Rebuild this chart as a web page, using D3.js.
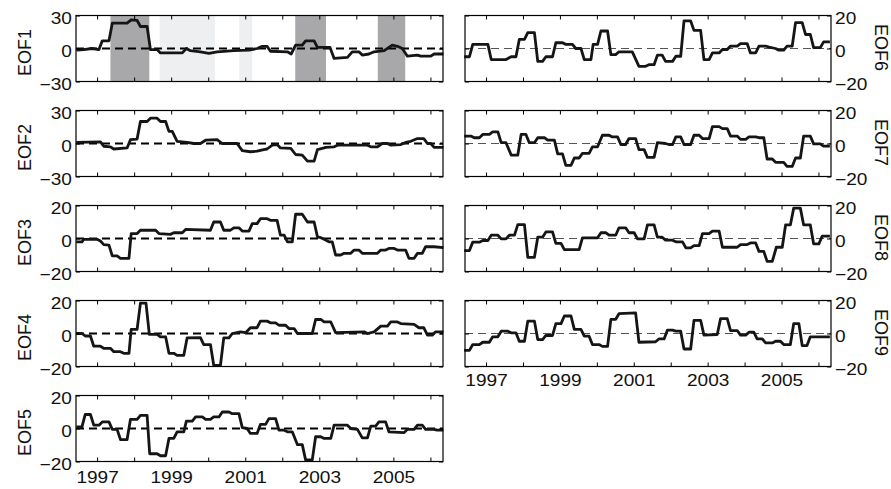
<!DOCTYPE html>
<html>
<head>
<meta charset="utf-8">
<script src="https://cdn.jsdelivr.net/npm/d3@7"></script>
<style>
  body { margin: 0; background: #fff; }
  svg { display: block; font-family: "Liberation Sans", Arial, sans-serif; }
</style>
</head>
<body>
<script>
// values, [decimal year, amplitude]
var eof1 = [[1996.44,-1.5],[1996.64,-1],[1996.86,0],[1997.05,-1],[1997.14,7],[1997.32,7],[1997.41,23],[1997.81,23],[1997.92,26],[1998.08,25.5],[1998.17,20],[1998.35,20],[1998.44,-1],[1998.62,-1],[1998.71,-4],[1999.30,-4],[1999.41,0],[1999.52,-2],[1999.79,-3],[2000.02,-4.5],[2000.24,-3],[2000.69,-2],[2001.10,-1.5],[2001.32,0],[2001.46,2],[2001.59,2],[2001.68,-2.5],[2002.14,-3],[2002.24,-5],[2002.36,3],[2002.54,3],[2002.63,7],[2002.86,7],[2002.95,1],[2003.29,1],[2003.40,-9],[2003.76,-8],[2003.89,-3],[2004.07,-3],[2004.16,-6],[2004.34,-5],[2004.48,-3],[2004.75,-2],[2004.88,1],[2004.97,3],[2005.11,2],[2005.24,0],[2005.38,-7],[2005.65,-6],[2005.74,-7],[2006.01,-7],[2006.10,-5],[2006.35,-5]];
var eof2 = [[1996.44,1],[1997.09,1.5],[1997.18,-2.5],[1997.36,-3],[1997.45,-5],[1997.81,-4],[1997.90,3.5],[1998.08,4],[1998.17,20],[1998.35,20],[1998.44,23],[1998.62,23],[1998.71,20],[1998.85,20],[1998.94,11],[1999.03,11],[1999.16,2],[1999.43,1],[1999.61,0],[1999.79,0],[1999.93,3],[2000.24,3.5],[2000.38,0],[2000.78,0],[2000.92,-6.5],[2001.14,-7.5],[2001.32,-7],[2001.50,-5.5],[2001.59,-5],[2001.73,-1.5],[2001.86,-1],[2001.95,-4],[2002.23,-4.5],[2002.36,-10],[2002.54,-10.5],[2002.68,-16],[2002.86,-16],[2002.95,-5.5],[2003.13,-4],[2003.17,-3.5],[2003.40,-3],[2003.49,-1.5],[2004.30,-1.5],[2004.39,-3],[2004.57,-3],[2004.70,0],[2004.84,0],[2004.93,-1.5],[2005.20,-1],[2005.33,1],[2005.47,2],[2005.65,4.5],[2005.82,4.5],[2005.92,0],[2006.01,0],[2006.10,-3.5],[2006.35,-3.5]];
var eof3 = [[1996.44,-2],[1996.59,-2],[1996.64,-0.5],[1997.00,-0.5],[1997.09,-1.5],[1997.18,-3.7],[1997.32,-4],[1997.41,-10.5],[1997.54,-10.5],[1997.63,-12],[1997.86,-12],[1997.92,3],[1998.08,3],[1998.17,5],[1998.58,5],[1998.67,3],[1998.98,2.5],[1999.07,3.5],[1999.30,3.5],[1999.39,5.5],[2000.06,5],[2000.15,10],[2000.33,10],[2000.42,5],[2000.60,5],[2000.69,6.5],[2000.83,6.5],[2000.92,4.5],[2001.10,4.5],[2001.19,9],[2001.32,9],[2001.41,12],[2001.59,12],[2001.68,11],[2001.86,11],[2001.95,2],[2002.05,2],[2002.14,-2],[2002.27,-2],[2002.36,14.7],[2002.54,14.7],[2002.68,10],[2002.86,10],[2002.95,1],[2003.04,0.5],[2003.13,-0.5],[2003.26,-2],[2003.35,-2],[2003.44,-10],[2003.58,-10],[2003.67,-9],[2003.85,-9],[2003.94,-7],[2004.07,-7],[2004.16,-9],[2004.57,-9],[2004.66,-7],[2004.79,-7],[2004.88,-6],[2005.02,-6],[2005.11,-7],[2005.33,-7],[2005.42,-12],[2005.56,-12],[2005.65,-9],[2005.78,-9],[2005.87,-5],[2006.10,-5],[2006.35,-5.5]];
var eof4 = [[1996.44,0],[1996.59,0],[1996.68,-1.5],[1996.82,-1.5],[1996.91,-7.7],[1997.09,-7.7],[1997.18,-9],[1997.36,-9],[1997.45,-11],[1997.63,-11],[1997.72,-12],[1997.86,-12],[1997.92,2.5],[1998.08,2.5],[1998.17,18.4],[1998.32,18.4],[1998.41,-0.5],[1998.62,-0.5],[1998.71,-2],[1998.85,-2],[1998.94,-12],[1999.07,-12],[1999.16,-13.3],[1999.34,-13.3],[1999.43,-2.7],[1999.79,-2.5],[1999.88,-6.7],[2000.06,-6.7],[2000.15,-19.4],[2000.33,-19.4],[2000.42,-2.7],[2000.56,-2.7],[2000.65,0],[2000.87,1],[2001.01,0.5],[2001.14,3.5],[2001.32,3.5],[2001.41,7.5],[2001.59,7.5],[2001.68,6.5],[2001.82,6.5],[2001.91,5],[2002.09,5],[2002.18,3],[2002.32,3],[2002.41,0],[2002.81,0],[2002.90,8.5],[2003.04,8.5],[2003.13,7],[2003.31,7],[2003.44,0.5],[2004.21,1],[2004.30,0],[2004.48,1],[2004.66,4.5],[2004.84,4.5],[2004.93,7],[2005.11,7],[2005.20,6],[2005.56,5.5],[2005.69,3.5],[2005.82,3.5],[2005.92,-1],[2006.05,-1],[2006.14,1],[2006.35,1]];
var eof5 = [[1996.44,1],[1996.59,1],[1996.68,8.5],[1996.82,8.5],[1996.91,2],[1997.05,2],[1997.14,4],[1997.32,4],[1997.41,-0.5],[1997.54,-0.5],[1997.63,-6.7],[1997.81,-6.7],[1997.90,5.5],[1998.08,5.5],[1998.17,8],[1998.35,8],[1998.42,-15.3],[1998.62,-15.3],[1998.71,-16.5],[1998.85,-16.5],[1998.94,-6],[1999.07,-6],[1999.16,-2],[1999.34,-2],[1999.41,4.5],[1999.57,4.5],[1999.66,7],[1999.84,7],[1999.93,5.5],[2000.06,5.5],[2000.15,7],[2000.29,7],[2000.38,10],[2000.56,10],[2000.65,9],[2000.83,9],[2000.92,0.5],[2001.05,0],[2001.14,-3],[2001.32,-3],[2001.41,2.5],[2001.55,2.5],[2001.64,6],[2001.82,6],[2001.91,-1],[2002.05,-1],[2002.14,-2],[2002.27,-2],[2002.41,-9.8],[2002.54,-9.8],[2002.63,-19],[2002.81,-19],[2002.90,-5],[2003.04,-5],[2003.13,-6],[2003.31,-6],[2003.40,2],[2003.76,2],[2003.85,0],[2004.03,-0.5],[2004.16,-5.7],[2004.30,-5.7],[2004.39,1.5],[2004.52,1.5],[2004.61,4],[2004.79,4],[2004.88,-2],[2005.29,-2.5],[2005.38,-0.5],[2005.56,-0.5],[2005.65,2],[2005.78,2],[2005.87,-0.5],[2006.10,-0.5],[2006.18,-1],[2006.35,-1]];
var eof6 = [[1996.41,-5],[1996.55,-5],[1996.64,2.5],[1997.05,2.5],[1997.14,-6.7],[1997.54,-6.7],[1997.68,-5],[1997.81,-5],[1997.90,5.5],[1998.04,5.5],[1998.13,9.6],[1998.31,9.6],[1998.40,-7.8],[1998.53,-7.8],[1998.62,-5],[1998.80,-5],[1998.89,3.5],[1999.07,3.5],[1999.16,2.5],[1999.34,2.5],[1999.43,0],[1999.57,0],[1999.66,-6.7],[1999.84,-6.7],[1999.90,2.5],[2000.02,2.5],[2000.11,10.6],[2000.29,10.6],[2000.38,-3.7],[2000.51,-3.7],[2000.60,-2],[2000.96,-2],[2001.14,-10.8],[2001.32,-10.8],[2001.41,-9.8],[2001.55,-9.8],[2001.64,-4],[2001.77,-4],[2001.86,-7.8],[2002.05,-7.8],[2002.14,-4.7],[2002.27,-4.7],[2002.36,16.7],[2002.54,16.7],[2002.63,11],[2002.81,11],[2002.90,-6.7],[2003.04,-6.7],[2003.13,-2.7],[2003.31,-2.7],[2003.40,-0.6],[2003.53,-0.6],[2003.62,1.5],[2003.80,1.5],[2003.89,3],[2004.07,3],[2004.16,-2.7],[2004.30,-2.7],[2004.39,1.5],[2004.57,1.5],[2004.66,0.8],[2004.84,0],[2004.93,-1],[2005.06,-1],[2005.15,1.5],[2005.29,1.5],[2005.38,15.7],[2005.56,15.7],[2005.65,8.5],[2005.78,8.5],[2005.87,0.5],[2006.05,0.5],[2006.14,4],[2006.31,4]];
var eof7 = [[1996.41,4.5],[1996.59,4.5],[1996.68,3.5],[1996.82,3.5],[1996.91,5.5],[1997.09,5.5],[1997.18,7],[1997.32,7],[1997.41,0.5],[1997.54,0.5],[1997.68,-7],[1997.86,-7],[1997.95,5.5],[1998.08,5.5],[1998.17,0.5],[1998.31,0.5],[1998.40,3.5],[1998.58,3.5],[1998.67,2],[1998.85,2],[1998.94,-6.3],[1999.07,-6.3],[1999.16,-13.3],[1999.30,-13.3],[1999.39,-8.8],[1999.52,-8.8],[1999.61,-6],[1999.79,-6],[1999.88,-2],[2000.02,-2],[2000.15,5],[2000.33,5],[2000.42,4],[2000.56,4],[2000.65,-0.6],[2000.78,-0.6],[2000.87,3],[2001.05,3],[2001.14,-3.7],[2001.28,-3.7],[2001.37,-8.4],[2001.55,-8.4],[2001.64,0.5],[2001.86,0],[2001.95,-0.6],[2002.05,-0.6],[2002.14,4],[2002.27,4],[2002.36,-0.6],[2002.54,-0.6],[2002.63,5],[2002.77,5],[2002.86,3],[2003.04,3],[2003.13,10.2],[2003.31,10.2],[2003.40,9],[2003.53,9],[2003.62,4.5],[2003.80,4.5],[2003.89,2.5],[2004.03,2.5],[2004.12,4],[2004.30,4],[2004.39,3.5],[2004.52,3.5],[2004.61,-9.4],[2004.75,-9.4],[2004.84,-11.4],[2005.06,-11.4],[2005.15,-13.9],[2005.29,-13.9],[2005.38,-8.8],[2005.51,-8.8],[2005.60,4.5],[2005.78,4.5],[2005.87,-0.2],[2006.05,-0.2],[2006.14,-1.6],[2006.31,-1.6]];
var eof8 = [[1996.41,-7.3],[1996.55,-7.3],[1996.64,-2.2],[1996.82,-2.2],[1996.91,-1.2],[1997.05,-1.2],[1997.14,2],[1997.32,2],[1997.41,-0.2],[1997.54,-0.2],[1997.63,2],[1997.77,2],[1997.86,8.4],[1998.04,8.4],[1998.13,-11.4],[1998.31,-11.4],[1998.40,0.8],[1998.53,0.8],[1998.62,4],[1998.80,4],[1998.89,-3],[1999.03,-3],[1999.12,-6.7],[1999.52,-6.7],[1999.61,0.4],[2000.02,0.4],[2000.11,3.5],[2000.24,3.5],[2000.33,2],[2000.51,2],[2000.60,6.5],[2000.78,6.5],[2000.87,3.5],[2001.01,3.5],[2001.10,-0.2],[2001.28,-0.2],[2001.37,8.2],[2001.55,8.2],[2001.64,0.8],[2001.77,0.8],[2001.86,-1],[2002.05,-1],[2002.14,-2],[2002.32,-2],[2002.41,-5.7],[2002.54,-5.7],[2002.63,-4.3],[2002.77,-4.3],[2002.86,3],[2003.04,3],[2003.13,4.5],[2003.31,4.5],[2003.40,-5.3],[2003.80,-5.3],[2003.89,-3.7],[2004.07,-3.7],[2004.16,-2.7],[2004.30,-2.7],[2004.39,-7.8],[2004.52,-7.8],[2004.61,-13.9],[2004.75,-13.9],[2004.86,-5.3],[2005.02,-5.3],[2005.11,8.2],[2005.24,8.2],[2005.33,18.4],[2005.51,18.4],[2005.60,8.2],[2005.78,8.2],[2005.87,-3.3],[2006.01,-3.3],[2006.10,1.4],[2006.31,1.4]];
var eof9 = [[1996.41,-10.2],[1996.55,-10.2],[1996.64,-6.7],[1996.82,-6.7],[1996.91,-5.3],[1997.09,-5.3],[1997.18,-2],[1997.32,-2],[1997.41,1.4],[1997.59,1.4],[1997.68,0.4],[1997.81,0.4],[1997.90,-4.7],[1998.04,-4.7],[1998.13,7.5],[1998.31,7.5],[1998.40,-3.7],[1998.53,-3.7],[1998.62,-1.2],[1998.80,-1.2],[1998.89,6],[1999.03,6],[1999.12,10.6],[1999.30,10.6],[1999.39,2.5],[1999.57,2.5],[1999.66,-1.6],[1999.79,-1.6],[1999.88,-6.7],[2000.06,-6.7],[2000.15,-7.8],[2000.29,-7.8],[2000.38,8.6],[2000.51,8.6],[2000.60,12],[2001.05,12.5],[2001.14,-5.3],[2001.59,-5],[2001.68,-3.3],[2001.82,-3.3],[2001.91,2],[2002.05,2],[2002.14,1.4],[2002.27,1.4],[2002.36,-9.4],[2002.54,-9.4],[2002.63,8],[2002.81,8],[2002.90,-1],[2003.26,-0.6],[2003.35,9],[2003.53,9],[2003.62,1.8],[2003.80,1.8],[2003.89,-1],[2004.03,-1],[2004.12,0.8],[2004.25,0.8],[2004.34,-3.3],[2004.48,-3.3],[2004.57,-5.7],[2004.75,-5.7],[2004.84,-4.7],[2004.97,-4.7],[2005.06,-6.7],[2005.24,-6.7],[2005.33,6],[2005.47,6],[2005.56,-7.3],[2005.69,-7.3],[2005.78,-2],[2006.31,-2]];

var yearTicks = [1997, 1998, 1999, 2000, 2001, 2002, 2003, 2004, 2005, 2006];
var yearLabels = [1997, 1999, 2001, 2003, 2005];
var timeDomain = [1996.43, 2006.34];

// warm / cold episodes shaded behind EOF1
var warmSpans = [[1997.36, 1998.41], [2002.35, 2003.18], [2004.58, 2005.32]];
var coldSpans = [[1998.69, 2000.18], [2000.84, 2001.19]];

var svg = d3.select('body').append('svg')
  .attr('width', 891)
  .attr('height', 489);

function drawPanel(opts) {
  var left = opts.side === 'left';
  var x0 = left ? 76 : 465;
  var x1 = left ? 443 : 831;
  var h = 66;
  var top = opts.top;
  var lim = opts.lim;

  var x = d3.scaleLinear().domain(timeDomain).range([x0, x1]);
  var y = d3.scaleLinear().domain([-lim, lim]).range([top + h, top]);

  var g = svg.append('g');

  if (opts.shade) {
    g.selectAll('rect.cold').data(coldSpans).enter().append('rect')
      .attr('x', function(d) { return x(d[0]); })
      .attr('width', function(d) { return x(d[1]) - x(d[0]); })
      .attr('y', top).attr('height', h)
      .attr('fill', '#eeeff1');
    g.selectAll('rect.warm').data(warmSpans).enter().append('rect')
      .attr('x', function(d) { return x(d[0]); })
      .attr('width', function(d) { return x(d[1]) - x(d[0]); })
      .attr('y', top).attr('height', h)
      .attr('fill', '#a8a8ab');
  }

  // zero line
  g.append('line')
    .attr('x1', x0).attr('x2', x1)
    .attr('y1', y(0)).attr('y2', y(0))
    .attr('stroke', left ? '#000' : '#555')
    .attr('stroke-width', left ? 2 : 1)
    .attr('stroke-dasharray', '8,5');

  var line = d3.line()
    .x(function(d) { return x(d[0]); })
    .y(function(d) { return y(d[1]); });

  g.append('path')
    .datum(opts.data)
    .attr('d', line)
    .attr('fill', 'none')
    .attr('stroke', '#151515')
    .attr('stroke-width', 2.8)
    .attr('stroke-linejoin', 'round');

  // axes, ticks pointing inward
  var bottomAxis = d3.axisBottom(x).tickValues(yearTicks).tickSize(-4)
    .tickPadding(opts.xLabels ? (left ? 10 : 7.5) : 0)
    .tickFormat(function(d) { return opts.xLabels && yearLabels.indexOf(d) >= 0 ? d : ''; });
  var topAxis = d3.axisTop(x).tickValues(yearTicks).tickSize(-4).tickFormat('');
  var yTicks = [-lim, 0, lim];
  var sideAxis = (left ? d3.axisLeft(y) : d3.axisRight(y))
    .tickValues(yTicks).tickSize(-4).tickPadding(3.5);
  var otherAxis = (left ? d3.axisRight(y) : d3.axisLeft(y))
    .tickValues(yTicks).tickSize(-4).tickFormat('');

  var gb = g.append('g').attr('transform', 'translate(0,' + (top + h) + ')').call(bottomAxis);
  var gt = g.append('g').attr('transform', 'translate(0,' + top + ')').call(topAxis);
  var gs = g.append('g').attr('transform', 'translate(' + (left ? x0 : x1) + ',0)').call(sideAxis);
  var go = g.append('g').attr('transform', 'translate(' + (left ? x1 : x0) + ',0)').call(otherAxis);

  gs.selectAll('.tick text').attr('dy', '0.5em');

  [gb, gt, gs, go].forEach(function(a) {
    a.select('.domain').remove();
    a.selectAll('.tick line').attr('stroke', '#000').attr('stroke-width', 1);
    // the figure's digits are a little wider than Arial's
    a.selectAll('.tick text')
      .attr('fill', '#111')
      .attr('transform', 'scale(1.17,1)')
      .style('font-family', '"Liberation Sans", Arial, sans-serif')
      .style('font-size', '16.3px');
  });

  g.append('rect')
    .attr('x', x0).attr('y', top)
    .attr('width', x1 - x0).attr('height', h)
    .attr('fill', 'none')
    .attr('stroke', '#000')
    .attr('stroke-width', 1.2);

  var lx = left ? 25 : 881;
  var ly = top + h / 2 + (left ? 4 : -1);
  g.append('text')
    .attr('transform', 'translate(' + lx + ',' + ly + ') rotate(' + (left ? -90 : 90) + ')')
    .attr('text-anchor', 'middle')
    .attr('dy', '0.36em')
    .attr('fill', '#111')
    .style('font-size', '18px')
    .text(opts.label);
}

drawPanel({ side: 'left', top: 15.5, lim: 30, data: eof1, label: 'EOF1', shade: true });
drawPanel({ side: 'left', top: 110.5, lim: 30, data: eof2, label: 'EOF2' });
drawPanel({ side: 'left', top: 205.5, lim: 20, data: eof3, label: 'EOF3' });
drawPanel({ side: 'left', top: 300.5, lim: 20, data: eof4, label: 'EOF4' });
drawPanel({ side: 'left', top: 395.5, lim: 20, data: eof5, label: 'EOF5', xLabels: true });
drawPanel({ side: 'right', top: 15.5, lim: 20, data: eof6, label: 'EOF6' });
drawPanel({ side: 'right', top: 110.5, lim: 20, data: eof7, label: 'EOF7' });
drawPanel({ side: 'right', top: 205.5, lim: 20, data: eof8, label: 'EOF8' });
drawPanel({ side: 'right', top: 300.5, lim: 20, data: eof9, label: 'EOF9', xLabels: true });
</script>
</body>
</html>
